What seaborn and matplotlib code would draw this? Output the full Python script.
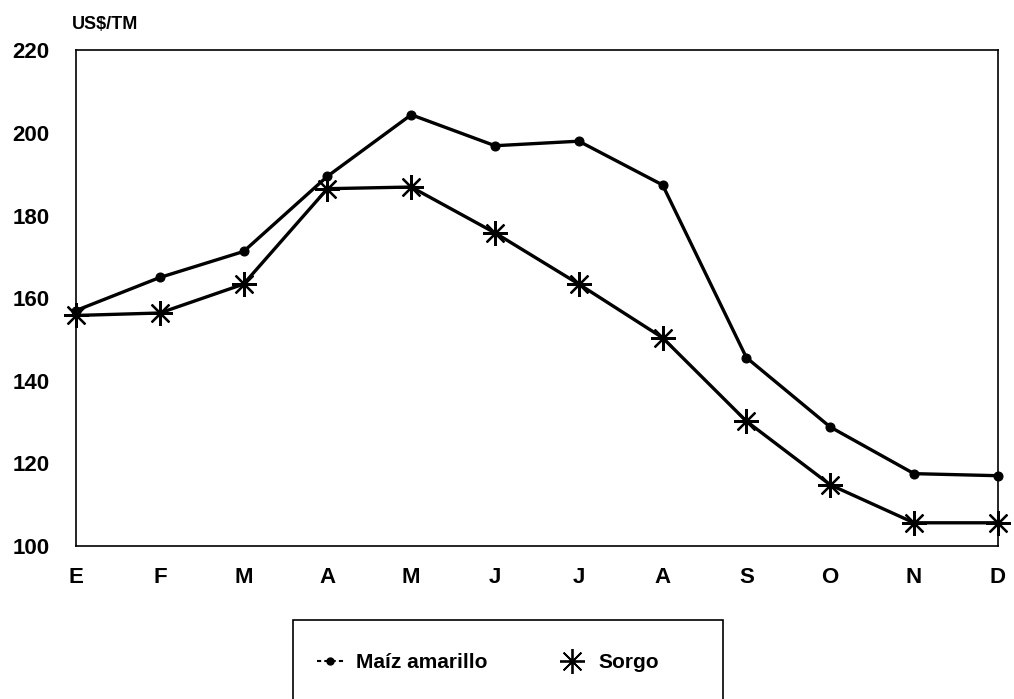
import matplotlib.pyplot as plt
import matplotlib.patches as mpatches
from matplotlib.lines import Line2D
import seaborn as sns
import pandas as pd

meses = ["E", "F", "M", "A", "M", "J", "J", "A", "S", "O", "N", "D"]
maiz = [157.0, 165.0, 171.3, 189.5, 204.4, 196.9, 198.0, 187.4, 145.6, 128.8, 117.5, 117.0]
sorgo = [155.8, 156.4, 163.4, 186.5, 186.9, 175.8, 163.4, 150.4, 130.2, 114.8, 105.6, 105.6]

sns.set_theme(style="white")
plt.rcParams["font.family"] = ["Liberation Sans", "DejaVu Sans"]
plt.rcParams["text.color"] = "black"
plt.rcParams["xtick.color"] = "black"
plt.rcParams["ytick.color"] = "black"

pos = list(range(len(meses)))
df_maiz = pd.DataFrame({"pos": pos, "precio": maiz})
df_sorgo = pd.DataFrame({"pos": pos, "precio": sorgo})

fig = plt.figure(figsize=(10.14, 6.99), dpi=100)
ax = fig.add_axes([0.075, 0.219, 0.909, 0.709])

sns.lineplot(data=df_maiz, x="pos", y="precio", color="black", linewidth=2.4,
             marker="o", markersize=6.5, markeredgecolor="black",
             ax=ax, clip_on=False)
sns.lineplot(data=df_sorgo, x="pos", y="precio", color="black", linewidth=2.4,
             marker=(8, 2, 0), markersize=18, markeredgewidth=1.6,
             markeredgecolor="black", ax=ax, clip_on=False)

ax.set_xlim(0, 11)
ax.set_ylim(100, 220)
ax.set_xticks(pos)
ax.set_xticklabels(meses)
ax.set_yticks(range(100, 221, 20))
ax.tick_params(axis="both", length=0, labelsize=16, labelcolor="black")
ax.tick_params(axis="y", pad=19)
ax.tick_params(axis="x", pad=15)
for lab in ax.get_xticklabels() + ax.get_yticklabels():
    lab.set_fontweight("bold")
ax.set_xlabel("")
ax.set_ylabel("")
for sp in ax.spines.values():
    sp.set_color("black")
    sp.set_linewidth(1.2)

fig.text(0.071, 0.965, "US$/TM", fontsize=13, fontweight="bold", ha="left",
         va="center", color="black")

# legend box running off the bottom edge
fig.patches.append(mpatches.Rectangle(
    (0.289, -0.05), 0.424, 0.163, transform=fig.transFigure,
    fill=False, edgecolor="black", linewidth=1.2))

handles = [
    Line2D([], [], color="black", linewidth=1.5, linestyle=(0, (2, 1.5)),
           marker="o", markersize=5),
    Line2D([], [], color="none", marker=(8, 2, 0), markersize=18,
           markeredgewidth=1.3, markeredgecolor="black"),
]
fig.legend(handles, ["Maíz amarillo", "Sorgo"], loc="center left",
           bbox_to_anchor=(0.294, 0.052), ncol=2, frameon=False,
           prop={"weight": "bold", "size": 15}, handlelength=1.3,
           columnspacing=3.4, handletextpad=0.6)

fig.savefig("out.png", dpi=100)
